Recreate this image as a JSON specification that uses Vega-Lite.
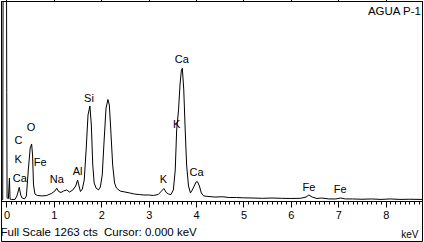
{
  "$schema": "https://vega.github.io/schema/vega-lite/v6.json",
  "width": 421,
  "height": 240,
  "autosize": {"type": "none"},
  "padding": {"left": 1, "top": 1, "right": 2, "bottom": 1},
  "background": "white",
  "config": {
    "view": {"stroke": "black", "strokeWidth": 1},
    "axis": {"domainColor": "black", "tickColor": "black", "labelColor": "black", "titleColor": "black", "labelFont": "Liberation Sans", "titleFont": "Liberation Sans", "grid": false},
    "text": {"font": "Liberation Sans", "fontSize": 11, "color": "black"}
  },
  "datasets": {
    "spectrum": [
      {"keV": -0.116, "cts": 8}, {"keV": -0.08, "cts": 8}, {"keV": -0.062, "cts": 3000}, {"keV": -0.01, "cts": 3000},
      {"keV": 0.005, "cts": 690}, {"keV": 0.012, "cts": 20}, {"keV": 0.04, "cts": 15}, {"keV": 0.062, "cts": 146},
      {"keV": 0.075, "cts": 12}, {"keV": 0.1, "cts": 10}, {"keV": 0.18, "cts": 10}, {"keV": 0.22, "cts": 32},
      {"keV": 0.27, "cts": 87}, {"keV": 0.3, "cts": 38}, {"keV": 0.33, "cts": 19}, {"keV": 0.38, "cts": 13},
      {"keV": 0.42, "cts": 32}, {"keV": 0.46, "cts": 197}, {"keV": 0.5, "cts": 336}, {"keV": 0.53, "cts": 362},
      {"keV": 0.55, "cts": 292}, {"keV": 0.57, "cts": 102}, {"keV": 0.6, "cts": 44}, {"keV": 0.65, "cts": 35},
      {"keV": 0.75, "cts": 32}, {"keV": 0.85, "cts": 35}, {"keV": 0.95, "cts": 48}, {"keV": 1.02, "cts": 63},
      {"keV": 1.06, "cts": 81}, {"keV": 1.1, "cts": 60}, {"keV": 1.15, "cts": 54}, {"keV": 1.2, "cts": 63},
      {"keV": 1.27, "cts": 70}, {"keV": 1.33, "cts": 57}, {"keV": 1.4, "cts": 70}, {"keV": 1.46, "cts": 95},
      {"keV": 1.5, "cts": 133}, {"keV": 1.53, "cts": 95}, {"keV": 1.56, "cts": 60}, {"keV": 1.6, "cts": 76},
      {"keV": 1.64, "cts": 133}, {"keV": 1.68, "cts": 324}, {"keV": 1.72, "cts": 546}, {"keV": 1.76, "cts": 603},
      {"keV": 1.79, "cts": 482}, {"keV": 1.82, "cts": 228}, {"keV": 1.85, "cts": 114}, {"keV": 1.89, "cts": 82},
      {"keV": 1.94, "cts": 70}, {"keV": 1.98, "cts": 89}, {"keV": 2.02, "cts": 165}, {"keV": 2.06, "cts": 387},
      {"keV": 2.1, "cts": 590}, {"keV": 2.14, "cts": 644}, {"keV": 2.17, "cts": 609}, {"keV": 2.2, "cts": 451},
      {"keV": 2.24, "cts": 228}, {"keV": 2.28, "cts": 114}, {"keV": 2.32, "cts": 82}, {"keV": 2.4, "cts": 63},
      {"keV": 2.5, "cts": 57}, {"keV": 2.6, "cts": 51}, {"keV": 2.7, "cts": 44}, {"keV": 2.8, "cts": 41},
      {"keV": 2.9, "cts": 38}, {"keV": 3.0, "cts": 38}, {"keV": 3.1, "cts": 35}, {"keV": 3.2, "cts": 41},
      {"keV": 3.27, "cts": 63}, {"keV": 3.32, "cts": 79}, {"keV": 3.37, "cts": 54}, {"keV": 3.42, "cts": 44},
      {"keV": 3.47, "cts": 41}, {"keV": 3.52, "cts": 70}, {"keV": 3.56, "cts": 197}, {"keV": 3.59, "cts": 451},
      {"keV": 3.63, "cts": 578}, {"keV": 3.66, "cts": 736}, {"keV": 3.69, "cts": 831}, {"keV": 3.71, "cts": 842},
      {"keV": 3.74, "cts": 705}, {"keV": 3.77, "cts": 451}, {"keV": 3.8, "cts": 228}, {"keV": 3.84, "cts": 95},
      {"keV": 3.88, "cts": 51}, {"keV": 3.92, "cts": 70}, {"keV": 3.96, "cts": 95}, {"keV": 4.0, "cts": 121},
      {"keV": 4.03, "cts": 122}, {"keV": 4.07, "cts": 95}, {"keV": 4.11, "cts": 51}, {"keV": 4.16, "cts": 32},
      {"keV": 4.25, "cts": 29}, {"keV": 4.4, "cts": 25}, {"keV": 4.55, "cts": 27}, {"keV": 4.7, "cts": 22},
      {"keV": 4.85, "cts": 22}, {"keV": 5.0, "cts": 20}, {"keV": 5.2, "cts": 19}, {"keV": 5.4, "cts": 17},
      {"keV": 5.6, "cts": 19}, {"keV": 5.8, "cts": 17}, {"keV": 6.0, "cts": 16}, {"keV": 6.2, "cts": 17},
      {"keV": 6.32, "cts": 25}, {"keV": 6.38, "cts": 38}, {"keV": 6.45, "cts": 25}, {"keV": 6.55, "cts": 16},
      {"keV": 6.65, "cts": 19}, {"keV": 6.8, "cts": 13}, {"keV": 6.95, "cts": 13}, {"keV": 7.05, "cts": 19},
      {"keV": 7.15, "cts": 13}, {"keV": 7.3, "cts": 13}, {"keV": 7.5, "cts": 11}, {"keV": 7.7, "cts": 13},
      {"keV": 7.9, "cts": 10}, {"keV": 8.1, "cts": 13}, {"keV": 8.3, "cts": 10}, {"keV": 8.5, "cts": 11},
      {"keV": 8.766, "cts": 10}
    ],
    "labels": [
      {"keV": 0.25, "cts": 381, "label": "C"},
      {"keV": 0.245, "cts": 260, "label": "K"},
      {"keV": 0.28, "cts": 140, "label": "Ca"},
      {"keV": 0.52, "cts": 465, "label": "O"},
      {"keV": 0.71, "cts": 241, "label": "Fe"},
      {"keV": 1.06, "cts": 133, "label": "Na"},
      {"keV": 1.5, "cts": 186, "label": "Al"},
      {"keV": 1.74, "cts": 647, "label": "Si"},
      {"keV": 3.31, "cts": 133, "label": "K"},
      {"keV": 3.7, "cts": 895, "label": "Ca"},
      {"keV": 3.59, "cts": 482, "label": "K"},
      {"keV": 4.01, "cts": 176, "label": "Ca"},
      {"keV": 6.38, "cts": 84, "label": "Fe"},
      {"keV": 7.04, "cts": 70, "label": "Fe"}
    ],
    "sample": [
      {"keV": 8.745, "cts": 1200, "label": "AGUA P-1"}
    ]
  },
  "encoding": {
    "x": {"field": "keV", "type": "quantitative", "scale": {"domain": [-0.116, 8.766], "nice": false, "zero": false}},
    "y": {"field": "cts", "type": "quantitative", "scale": {"domain": [-253.9, 1269.3], "nice": false, "zero": false}, "axis": null}
  },
  "layer": [
    {
      "data": {"name": "spectrum"},
      "mark": {"type": "line", "color": "black", "strokeWidth": 1, "clip": true},
      "encoding": {
        "x": {"field": "keV", "type": "quantitative", "axis": {
          "orient": "bottom", "offset": -40, "domainWidth": 1,
          "values": [0,0.1,0.2,0.3,0.4,0.5,0.6,0.7,0.8,0.9,1,1.1,1.2,1.3,1.4,1.5,1.6,1.7,1.8,1.9,2,2.1,2.2,2.3,2.4,2.5,2.6,2.7,2.8,2.9,3,3.1,3.2,3.3,3.4,3.5,3.6,3.7,3.8,3.9,4,4.1,4.2,4.3,4.4,4.5,4.6,4.7,4.8,4.9,5,5.1,5.2,5.3,5.4,5.5,5.6,5.7,5.8,5.9,6,6.1,6.2,6.3,6.4,6.5,6.6,6.7,6.8,6.9,7,7.1,7.2,7.3,7.4,7.5,7.6,7.7,7.8,7.9,8,8.1,8.2,8.3,8.4,8.5,8.6,8.7],
          "tickSize": {"condition": {"test": "datum.value % 1 === 0", "value": 6}, "value": 3},
          "labelExpr": "datum.value % 1 === 0 ? format(datum.value, 'd') : ''",
          "labelOverlap": false, "labelFlush": false, "labelFontSize": 11, "labelPadding": 2,
          "title": "Full Scale 1263 cts\u00a0 Cursor: 0.000 keV",
          "titleAnchor": "start", "titleAlign": "left", "titleBaseline": "alphabetic",
          "titleX": -1, "titleY": 34, "titleFontSize": 11.5, "titleFontWeight": "normal"
        }},
        "y": {"field": "cts", "type": "quantitative"}
      }
    },
    {
      "data": {"name": "labels"},
      "mark": {"type": "text", "align": "center", "baseline": "middle"},
      "encoding": {"text": {"field": "label"}}
    },
    {
      "data": {"name": "sample"},
      "mark": {"type": "text", "align": "right", "baseline": "middle", "fontSize": 11.5},
      "encoding": {"text": {"field": "label"}}
    },
    {
      "data": {"values": [{"keV": 8.7, "cts": 0}]},
      "mark": {"type": "point", "opacity": 0},
      "encoding": {
        "x": {"field": "keV", "type": "quantitative", "axis": {
          "orient": "bottom", "offset": -40, "domain": false, "ticks": false, "labels": false,
          "title": "keV", "titleAnchor": "end", "titleAlign": "right", "titleBaseline": "alphabetic",
          "titleX": 417, "titleY": 36, "titleFontSize": 10, "titleFontWeight": "normal"
        }}
      }
    }
  ],
  "resolve": {"axis": {"x": "independent"}}
}
